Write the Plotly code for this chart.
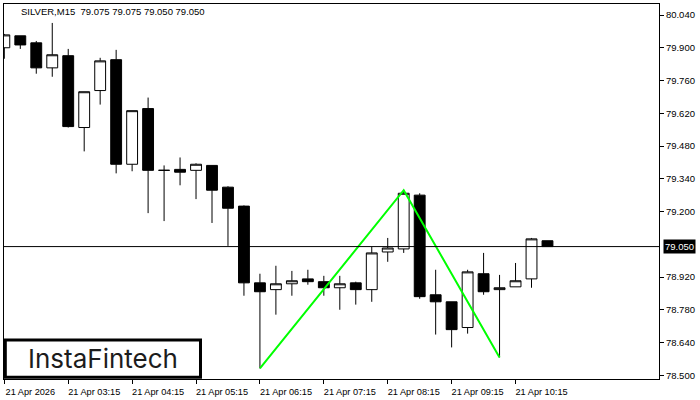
import plotly.graph_objects as go

# ---- data ----
times = ["02:15", "02:30", "02:45", "03:00", "03:15", "03:30", "03:45", "04:00",
         "04:15", "04:30", "04:45", "05:00", "05:15", "05:30", "05:45", "06:00",
         "06:15", "06:30", "06:45", "07:00", "07:15", "07:30", "07:45", "08:00",
         "08:15", "08:30", "08:45", "09:00", "09:15", "09:30", "09:45", "10:00",
         "10:15", "10:30", "10:45"]
opens = [79.900, 79.951, 79.921, 79.814, 79.866, 79.559, 79.717, 79.849, 79.402, 79.640,
         79.376, 79.380, 79.376, 79.397, 79.304, 79.223, 78.895, 78.866, 78.891, 78.912,
         78.900, 78.874, 78.895, 78.866, 79.027, 79.040, 79.270, 78.844, 78.814, 78.704,
         78.934, 78.866, 78.878, 78.912, 79.075]
highs = [79.959, 79.951, 79.929, 80.006, 79.895, 79.712, 79.857, 79.891, 79.631, 79.687,
         79.397, 79.431, 79.406, 79.397, 79.308, 79.226, 78.934, 78.968, 78.946, 78.951,
         78.925, 78.925, 78.900, 79.049, 79.087, 79.291, 79.278, 78.951, 78.814, 78.951,
         79.023, 78.929, 78.980, 79.087, 79.075]
lows = [79.853, 79.895, 79.789, 79.776, 79.559, 79.457, 79.657, 79.363, 79.372, 79.193,
        79.159, 79.312, 79.253, 79.151, 79.053, 78.840, 78.529, 78.759, 78.840, 78.887,
        78.840, 78.780, 78.802, 78.814, 78.985, 79.023, 78.827, 78.674, 78.619, 78.678,
        78.844, 78.576, 78.878, 78.874, 79.050]
closes = [79.955, 79.912, 79.814, 79.870, 79.563, 79.712, 79.844, 79.402, 79.631, 79.376,
          79.376, 79.368, 79.402, 79.291, 79.214, 78.895, 78.857, 78.891, 78.904, 78.900,
          78.874, 78.891, 78.866, 79.023, 79.044, 79.278, 78.836, 78.814, 78.695, 78.942,
          78.857, 78.874, 78.904, 79.083, 79.050]

pattern_idx = [16, 25, 31]
pattern_price = [78.529, 79.291, 78.576]

current_price = 79.050
price_ticks = [80.040, 79.900, 79.760, 79.620, 79.480, 79.340, 79.200,
               78.920, 78.780, 78.640, 78.500]
time_tick_idx = [0, 4, 8, 12, 16, 20, 24, 28, 32]
time_tick_text = ["21 Apr 2026", "21 Apr 03:15", "21 Apr 04:15", "21 Apr 05:15",
                  "21 Apr 06:15", "21 Apr 07:15", "21 Apr 08:15", "21 Apr 09:15",
                  "21 Apr 10:15"]
header = "SILVER,M15  79.075 79.075 79.050 79.050"

x = list(range(len(opens)))
FONT = "Liberation Sans"

fig = go.Figure()
fig.add_trace(go.Candlestick(
    x=x, open=opens, high=highs, low=lows, close=closes,
    increasing=dict(line=dict(color="black", width=1), fillcolor="white"),
    decreasing=dict(line=dict(color="black", width=1), fillcolor="black"),
    whiskerwidth=0, hoverinfo="skip", showlegend=False,
))
fig.add_trace(go.Scatter(
    x=pattern_idx, y=pattern_price, mode="lines",
    line=dict(color="#00ff00", width=2), hoverinfo="skip", showlegend=False,
))

fig.add_shape(type="line", xref="paper", yref="y", x0=0, x1=1,
              y0=current_price, y1=current_price,
              line=dict(color="black", width=1))

# logo box
fig.add_shape(type="rect", xref="paper", yref="paper",
              x0=0.002, x1=0.3, y0=0.005, y1=0.104,
              line=dict(color="black", width=3), fillcolor="white", layer="above")
fig.add_annotation(xref="paper", yref="paper", x=0.151, y=0.055,
                   text="InstaFintech", showarrow=False,
                   font=dict(family="Inter", size=26, color="#1c1c1c"),
                   xanchor="center", yanchor="middle")

fig.add_annotation(xref="paper", yref="paper", x=0.023, y=0.979,
                   text=header, showarrow=False, xanchor="left", yanchor="middle",
                   font=dict(family=FONT, size=9.5, color="black"))

fig.add_annotation(xref="paper", yref="y", x=1, y=current_price,
                   text="%.3f" % current_price, showarrow=False,
                   xanchor="left", yanchor="middle", xshift=4,
                   bgcolor="black", borderpad=1,
                   font=dict(family=FONT, size=9.5, color="white"))

fig.update_layout(
    width=700, height=400,
    margin=dict(l=3, r=41, t=3, b=20),
    paper_bgcolor="white", plot_bgcolor="white",
    boxgap=0.15, boxgroupgap=0.2,
    showlegend=False,
    xaxis=dict(
        range=[-0.02, 40.98], rangeslider=dict(visible=False),
        tickmode="array", tickvals=time_tick_idx, ticktext=time_tick_text,
        ticks="outside", ticklen=4, tickcolor="black", ticklabelshift=26,
        showgrid=False, zeroline=False,
        showline=True, mirror=True, linecolor="black", linewidth=1,
        tickfont=dict(family=FONT, size=9.2, color="black"),
    ),
    yaxis=dict(
        range=[78.484, 80.087], side="right",
        tickmode="array", tickvals=price_ticks,
        ticktext=["%.3f" % v for v in price_ticks],
        ticks="outside", ticklen=4, tickcolor="black",
        showgrid=False, zeroline=False,
        showline=True, mirror=True, linecolor="black", linewidth=1,
        tickfont=dict(family=FONT, size=9.5, color="black"),
    ),
)

fig.write_html("out.html", config={"displayModeBar": False},
               post_script="document.body.style.margin='0';document.body.style.overflow='hidden';")
